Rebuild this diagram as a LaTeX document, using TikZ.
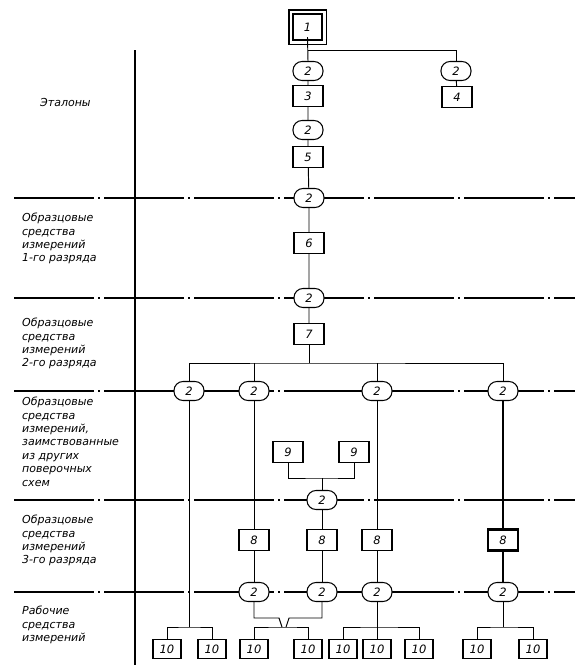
\documentclass[tikz,border=0pt]{standalone}
\usepackage{fontspec}
\setmainfont{DejaVu Sans}
\begin{document}
\begin{tikzpicture}[x=1pt,y=-1pt,
  conn/.style={line width=0.95pt},
  rulel/.style={line width=1.2pt, dash pattern=on 80pt off 4pt on 2pt off 4pt},
  box/.style={draw, line width=1.05pt, fill=white, minimum width=30pt, minimum height=21pt, inner sep=0pt, font=\itshape\fontsize{11.5}{11.5}\selectfont},
  tbox/.style={box, minimum width=28pt, minimum height=19pt},
  oval/.style={draw, line width=1.05pt, fill=white, rounded corners=9pt, minimum width=30pt, minimum height=19pt, inner sep=0pt, font=\itshape\fontsize{11.5}{11.5}\selectfont},
  lbl/.style={anchor=north west, inner sep=0pt, align=left, font=\itshape\fontsize{11}{13.4}\selectfont}
]
\useasboundingbox (0,0) rectangle (586,672);
% separators
\foreach \yy in {198,298,391,500,592} \draw[rulel] (14,\yy) -- (575,\yy);
\draw[line width=1.2pt] (135,50) -- (135,665);
% labels
\node[lbl] (l0) at (40,98) {Эталоны};
\node[lbl] (l1) at (22,213) {Образцовые\\средства\\измерений\\1-го разряда};
\node[lbl] (l2) at (22,318) {Образцовые\\средства\\измерений\\2-го разряда};
\node[lbl] (l3) at (22,397) {Образцовые\\средства\\измерений,\\заимствованные\\из других\\поверочных\\схем};
\node[lbl] (l4) at (22,515) {Образцовые\\средства\\измерений\\3-го разряда};
\node[lbl] (l5) at (22,606) {Рабочие\\средства\\измерений};
% nodes
\node[box, minimum width=29pt, minimum height=26pt] (b1) at (307.5,27) {1};
\draw[line width=1.05pt] ([shift={(-3.5,-3.5)}]b1.north west) rectangle ([shift={(3.5,3.5)}]b1.south east);
\node[oval] (oA) at (308,71) {2};
\node[oval] (oB) at (456,71) {2};
\node[box] (b3) at (308,96) {3};
\node[box] (b4) at (457,97) {4};
\node[oval] (oC) at (308,130) {2};
\node[box] (b5) at (308,157) {5};
\node[oval] (oD) at (309,198) {2};
\node[box] (b6) at (309,243) {6};
\node[oval] (oE) at (309,298) {2};
\node[box] (b7) at (309,334) {7};
\node[oval] (oF1) at (189,391) {2};
\node[oval] (oF2) at (254,391) {2};
\node[oval] (oF3) at (377,391) {2};
\node[oval] (oF4) at (503,391) {2};
\node[box] (b9a) at (288,452) {9};
\node[box] (b9b) at (354,452) {9};
\node[oval] (oG) at (322,500) {2};
\node[box] (b8a) at (254,540) {8};
\node[box] (b8b) at (322,540) {8};
\node[box] (b8c) at (377,540) {8};
\node[box, line width=2.3pt] (b8d) at (503,540) {8};
\node[oval] (oH1) at (254,592) {2};
\node[oval] (oH2) at (322,592) {2};
\node[oval] (oH3) at (377,592) {2};
\node[oval] (oH4) at (503,592) {2};
\foreach \n/\xx in {1/167,2/212,3/254,4/308,5/343,6/377,7/419,8/477,9/533}
  \node[tbox] (t\n) at (\xx,649) {10};
% junction coordinates
\coordinate (j1) at (308,50);
\coordinate (j2) at (309,363);
\coordinate (j4) at (322,478);
\coordinate (k1) at (189,627);
\coordinate (k2) at (282,627);
\coordinate (k3) at (286,627);
\coordinate (k4) at (377,627);
\coordinate (k5) at (503,627);
% connectors
\draw[conn] ([yshift=3.5pt]b1.south) -- (oA.north);
\draw[conn] (j1) -| (oB.north);
\draw[conn] (oA) -- (b3) (b3) -- (oC) (oC) -- (b5) (b5) -- (oD) (oD) -- (b6) (b6) -- (oE) (oE) -- (b7);
\draw[conn] (oB) -- (b4);
\draw[conn] (b7.south) -- (j2);
\draw[conn] (oF1.north) |- (j2) -| (oF4.north);
\draw[conn] (oF2.north) -- (oF2.north |- j2);
\draw[conn] (oF3.north) -- (oF3.north |- j2);
\draw[conn] (oF1.south) -- (k1);
\draw[conn] (t1.north) |- (k1) -| (t2.north);
\draw[conn] (oF2) -- (b8a) (b8a) -- (oH1);
\draw[conn] (b9a.south) |- (j4) -| (b9b.south);
\draw[conn] (j4) -- (oG.north);
\draw[conn] (oG) -- (b8b) (b8b) -- (oH2);
\draw[conn] (oF3) -- (b8c) (b8c) -- (oH3);
\draw[line width=1.6pt] (oF4) -- (b8d) (b8d) -- (oH4);
\draw[conn] (oH1.south) -- (254,618) -- (279,618) -- (k2);
\draw[conn] (oH2.south) -- (322,618) -- (289,618) -- (k3);
\draw[conn] (t3.north) |- (k2) -- (k3) -| (t4.north);
\draw[conn] (oH3.south) -- (t6.north);
\draw[conn] (t5.north) |- (k4) -| (t7.north);
\draw[conn] (oH4.south) -- (k5);
\draw[conn] (t8.north) |- (k5) -| (t9.north);
\end{tikzpicture}
\end{document}
